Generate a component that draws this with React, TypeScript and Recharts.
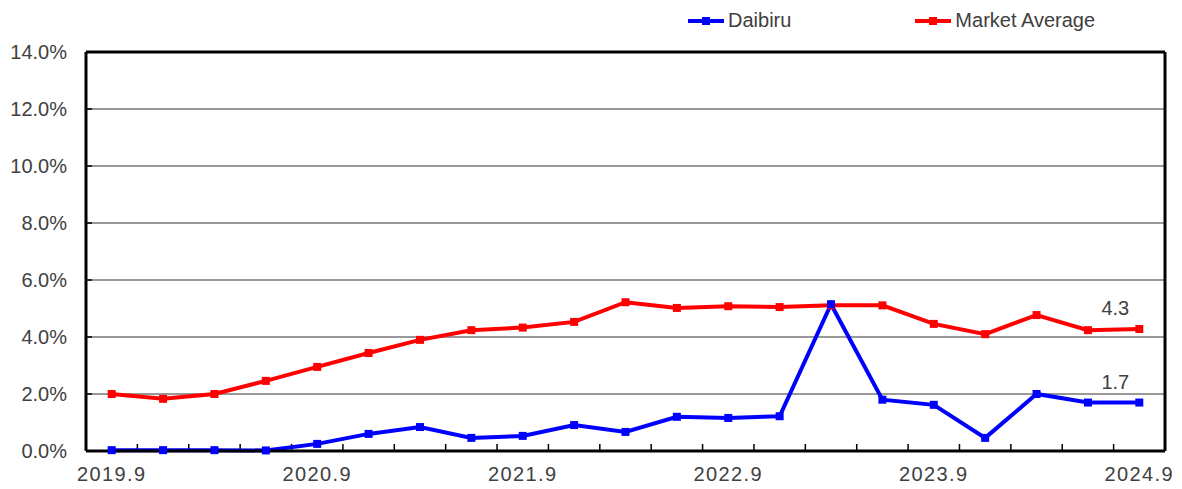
import { CartesianGrid, LabelList, Line, LineChart, XAxis, YAxis } from "recharts";

// Quarterly periods, 2019.9 through 2024.9
const periods = [
  "2019.9", "2019.12", "2020.3", "2020.6",
  "2020.9", "2020.12", "2021.3", "2021.6",
  "2021.9", "2021.12", "2022.3", "2022.6",
  "2022.9", "2022.12", "2023.3", "2023.6",
  "2023.9", "2023.12", "2024.3", "2024.6",
  "2024.9",
];

// vacancy rate, %
const daibiru = [
  0.03, 0.03, 0.03, 0.02, 0.25, 0.6, 0.84, 0.46, 0.53, 0.91, 0.67,
  1.2, 1.16, 1.22, 5.15, 1.8, 1.62, 0.46, 2.0, 1.7, 1.7,
];
const marketAverage = [
  2.0, 1.83, 2.0, 2.46, 2.95, 3.44, 3.9, 4.24, 4.33, 4.53, 5.22,
  5.02, 5.08, 5.05, 5.11, 5.11, 4.46, 4.1, 4.77, 4.24, 4.28,
];

const yTicks = [0, 2, 4, 6, 8, 10, 12, 14];
const yearLabels = ["2019.9", "2020.9", "2021.9", "2022.9", "2023.9", "2024.9"];

const BLUE = "#0000ff";
const RED = "#ff0000";
const TEXT = "#404040";
const FONT = "'Liberation Sans', Arial, sans-serif";

const WIDTH = 1182;
const HEIGHT = 489;
const MARGIN = { top: 51, right: 16, bottom: 0, left: 0 };
const X_AXIS_H = 38;
const PLOT_H = HEIGHT - MARGIN.top - 1 - X_AXIS_H; // 1 = top border axis
const TICK_LEN = 7;

const data = periods.map((p, i) => ({
  period: p,
  daibiru: daibiru[i],
  market: marketAverage[i],
}));

const squareDot = (color: string) => (props: any) => {
  const { cx, cy, index } = props;
  if (cx == null || cy == null) return <g key={index} />;
  return <rect key={index} x={cx - 4} y={cy - 4} width={8} height={8} fill={color} />;
};

// only the latest value gets a label, sitting above-left of the point
const lastLabel = (props: any) => {
  const { x, y, value, index } = props;
  if (index !== periods.length - 1) return null;
  return (
    <text x={x - 24} y={y - 14} textAnchor="middle" fontSize={20} fill={TEXT} fontFamily={FONT}>
      {Number(value).toFixed(1)}
    </text>
  );
};

// labels only once a year
const XTick = (props: any) => {
  const { x, y, payload } = props;
  if (!yearLabels.includes(payload.value)) return <g />;
  return (
    <text x={x} y={y} dy="0.71em" textAnchor="middle" fontSize={20} fill={TEXT} fontFamily={FONT} letterSpacing={1.4}>
      {payload.value}
    </text>
  );
};

// x positions of the boundaries between quarters
const bandEdges = ({ offset }: any) => {
  const step = offset.width / periods.length;
  return periods.slice(1).map((_, i) => offset.left + (i + 1) * step);
};

function LegendItem({ color, label }: { color: string; label: string }) {
  return (
    <div style={{ display: "flex", alignItems: "center" }}>
      <svg width={40} height={10}>
        <line x1={2} y1={5} x2={38} y2={5} stroke={color} strokeWidth={4} />
        <rect x={16} y={1} width={8} height={8} fill={color} />
      </svg>
      <span style={{ marginLeft: 2, fontSize: 20, color: TEXT, fontFamily: FONT }}>{label}</span>
    </div>
  );
}

export default function App() {
  return (
    <div style={{ position: "absolute", left: 0, top: 0, width: WIDTH, height: HEIGHT, background: "#fff" }}>
      <div style={{ position: "absolute", left: 686, top: 9, display: "flex", gap: 122 }}>
        <LegendItem color={BLUE} label="Daibiru" />
        <LegendItem color={RED} label="Market Average" />
      </div>
      <LineChart width={WIDTH} height={HEIGHT} data={data} margin={MARGIN}>
        <CartesianGrid vertical={false} stroke="#999" strokeWidth={2} />
        {/* short inward tick marks: quarter boundaries at the bottom, value ticks at the left */}
        <CartesianGrid
          horizontal={false}
          verticalCoordinatesGenerator={bandEdges}
          stroke="#000"
          strokeWidth={1.5}
          strokeDasharray={`0 ${PLOT_H - TICK_LEN} ${TICK_LEN}`}
        />
        <CartesianGrid vertical={false} stroke="#000" strokeWidth={1.5} strokeDasharray="6 2000" />
        <XAxis
          dataKey="period"
          scale="band"
          height={X_AXIS_H}
          interval={0}
          tickLine={false}
          tickSize={0}
          tickMargin={16}
          axisLine={{ stroke: "#000", strokeWidth: 3 }}
          tick={XTick}
        />
        <XAxis xAxisId="top" orientation="top" type="number" domain={[0, 1]} height={1} tick={false} tickLine={false} axisLine={{ stroke: "#000", strokeWidth: 3 }} />
        <YAxis
          domain={[0, 14]}
          ticks={yTicks}
          width={86}
          interval={0}
          tickLine={false}
          tickSize={0}
          tickMargin={19}
          axisLine={{ stroke: "#000", strokeWidth: 3 }}
          tickFormatter={(v: number) => `${v.toFixed(1)}%`}
          tick={{ fontSize: 20, fill: TEXT, fontFamily: FONT }}
        />
        <YAxis yAxisId="right" orientation="right" domain={[0, 14]} width={1} tick={false} tickLine={false} axisLine={{ stroke: "#000", strokeWidth: 3 }} />
        <Line dataKey="market" stroke={RED} strokeWidth={4} dot={squareDot(RED)} isAnimationActive={false}>
          <LabelList dataKey="market" content={lastLabel} />
        </Line>
        <Line dataKey="daibiru" stroke={BLUE} strokeWidth={4} dot={squareDot(BLUE)} isAnimationActive={false}>
          <LabelList dataKey="daibiru" content={lastLabel} />
        </Line>
      </LineChart>
    </div>
  );
}
